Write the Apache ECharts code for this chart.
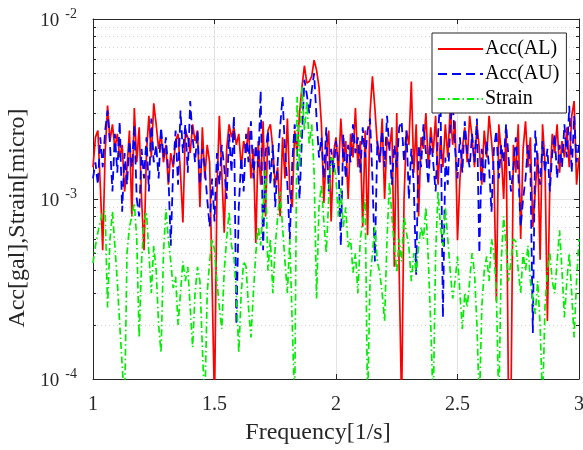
<!DOCTYPE html>
<html>
<head>
<meta charset="utf-8">
<script src="https://cdn.jsdelivr.net/npm/echarts@6/dist/echarts.min.js"></script>
<style>html,body{margin:0;padding:0;background:#fff}#c{width:583px;height:450px}</style>
</head>
<body>
<div id="c"></div>
<script>
// Frequency grid 1.00 ... 3.00, step 0.01
const freqStart = 1.0, freqStep = 0.01, freqCount = 201;
const freq = Array.from({length: freqCount}, (_, i) => +(freqStart + i * freqStep).toFixed(2));

const xTicks = [1, 1.5, 2, 2.5, 3];
const yDecades = [1e-4, 1e-3, 1e-2];
const yMinor = [2e-4,3e-4,4e-4,5e-4,6e-4,7e-4,8e-4,9e-4,2e-3,3e-3,4e-3,5e-3,6e-3,7e-3,8e-3,9e-3];

const seriesNames = ['Acc(AL)', 'Acc(AU)', 'Strain'];

// Acc(AL)
const accAL = [
0.0015,0.0022,0.0024,0.0012,0.00052,0.0018,0.0033,0.0021,0.0026,0.0019,
0.0023,0.0017,0.0020,0.0011,0.0015,0.0024,0.0008,0.0032,0.0016,0.0025,
0.0010,0.00052,0.0018,0.0029,0.0017,0.0034,0.0026,0.0019,0.0023,0.0016,
0.0020,0.0012,0.0018,0.0015,0.0021,0.0023,0.0014,0.00074,0.0024,0.0022,
0.0018,0.0026,0.0021,0.0024,0.0009,0.0025,0.0013,0.0020,0.0016,0.00035,
0.00007,0.0011,0.0029,0.0014,0.00065,0.0019,0.0026,0.0022,0.0025,0.0020,
0.0023,0.0015,0.0021,0.0018,0.0025,0.0013,0.0019,0.00057,0.0021,0.0012,
0.0027,0.0008,0.0024,0.0026,0.0019,0.0012,0.0015,0.0008,0.0022,0.0013,
0.0028,0.0011,0.0009,0.0024,0.0018,0.0030,0.0042,0.0055,0.0044,0.0045,
0.0048,0.0059,0.0052,0.0042,0.0026,0.00095,0.0018,0.0024,0.00075,0.0018,
0.0022,0.0014,0.0028,0.0016,0.0021,0.0010,0.0023,0.0017,0.0032,0.0015,
0.0021,0.0007,0.0024,0.00063,0.0030,0.0048,0.0032,0.0020,0.0016,0.0028,
0.0010,0.0022,0.0019,0.0025,0.00042,0.0030,0.0004,0.00007,0.0010,0.0024,
0.0020,0.0045,0.0014,0.0026,0.0008,0.0022,0.0019,0.0030,0.0015,0.0025,
0.0018,0.0029,0.0012,0.0022,0.0015,0.0026,0.0017,0.0032,0.0020,0.0027,
0.00059,0.0013,0.0019,0.0025,0.0016,0.0029,0.0022,0.0015,0.0026,0.0019,
0.0012,0.0024,0.0017,0.0029,0.0021,0.0014,0.00027,0.0026,0.0018,0.0010,
0.0025,0.00007,0.00007,0.0020,0.0014,0.0026,0.0006,0.0019,0.0027,0.0015,
0.0022,0.0007,0.0011,0.0018,0.00046,0.0026,0.0016,0.00021,0.0012,0.0023,
0.0018,0.0026,0.0014,0.0021,0.0017,0.0025,0.0015,0.0029,0.0035,0.0012,
0.0017
];

// Acc(AU)
const accAU = [
0.0013,0.0016,0.0012,0.0022,0.0015,0.0024,0.0031,0.0020,0.0011,0.0023,
0.0014,0.0027,0.00085,0.0018,0.0012,0.0021,0.0015,0.0026,0.0010,0.0008,
0.0019,0.0013,0.0022,0.0011,0.0028,0.0016,0.0020,0.0013,0.0025,0.0017,
0.0022,0.0014,0.00055,0.0015,0.0024,0.0012,0.0031,0.0018,0.0026,0.0014,
0.0035,0.0022,0.0016,0.0024,0.0012,0.0019,0.0015,0.0010,0.0007,0.0013,
0.00075,0.0018,0.0012,0.0020,0.0015,0.0010,0.0023,0.0014,0.0029,0.0002,
0.0009,0.0017,0.0011,0.0023,0.0016,0.0027,0.0013,0.0020,0.0015,0.0040,
0.00052,0.0018,0.0024,0.0012,0.0020,0.0009,0.0016,0.0025,0.0037,0.0019,
0.0012,0.0006,0.0016,0.0026,0.0018,0.0010,0.0022,0.0046,0.0038,0.0030,
0.0040,0.0050,0.0028,0.0017,0.0022,0.0013,0.0025,0.0011,0.0019,0.0014,
0.0021,0.0016,0.00055,0.0023,0.0013,0.0020,0.0016,0.0026,0.0018,0.0022,
0.0014,0.0025,0.0017,0.0024,0.0028,0.0013,0.00045,0.0021,0.0016,0.0024,
0.0015,0.0029,0.0019,0.0012,0.0020,0.0015,0.0025,0.0027,0.0016,0.0024,
0.0010,0.0019,0.0012,0.00038,0.0020,0.0015,0.0026,0.0018,0.0012,0.0022,
0.0016,0.0011,0.0023,0.0038,0.00022,0.0017,0.0012,0.0025,0.0036,0.0019,
0.0013,0.0022,0.0014,0.0027,0.0018,0.0015,0.0023,0.0016,0.0028,0.0005,
0.0019,0.0012,0.0021,0.0015,0.00085,0.0019,0.0024,0.0013,0.0020,0.0016,
0.0026,0.0017,0.0011,0.0015,0.0022,0.0014,0.0007,0.0010,0.0013,0.0020,
0.0015,0.00018,0.0024,0.0016,0.0012,0.0021,0.0014,0.0019,0.0011,0.0018,
0.0023,0.0013,0.0020,0.0015,0.0026,0.0017,0.0033,0.0014,0.0029,0.0016,
0.0020
];

// Strain
const strain = [
0.00044,0.00055,0.00065,0.00075,0.00085,0.00085,0.00025,0.0006,0.00085,0.00055,
0.00035,0.0002,0.00012,0.00007,0.0005,0.0007,0.0008,0.00095,0.0006,0.00017,
0.00045,0.00075,0.00085,0.0005,0.0003,0.00055,0.0004,0.0002,0.00014,0.0005,
0.00088,0.0006,0.00045,0.00032,0.00037,0.0002,0.0003,0.00045,0.00035,0.00042,
0.00025,0.00015,0.0003,0.00042,0.00035,0.00015,0.00007,0.0003,0.00045,0.0006,
0.00052,0.00035,0.00025,0.00019,0.0004,0.0006,0.00085,0.00055,0.00048,0.0003,
0.00014,0.0003,0.00045,0.00042,0.00025,0.00017,0.0003,0.0005,0.0007,0.00055,
0.0009,0.00145,0.0004,0.0006,0.0003,0.00055,0.0008,0.0011,0.0007,0.00045,
0.0003,0.0006,0.0002,0.00007,0.0037,0.0015,0.0042,0.0024,0.0035,0.0020,
0.0026,0.0014,0.00028,0.0009,0.0012,0.00075,0.0005,0.0010,0.0017,0.00165,
0.0013,0.0008,0.00115,0.0007,0.0009,0.00054,0.0006,0.00039,0.0005,0.0003,
0.0006,0.00075,0.0010,0.00007,0.00035,0.0005,0.0007,0.00045,0.00039,0.0003,
0.00021,0.0006,0.00125,0.0008,0.00055,0.00039,0.0006,0.00045,0.0008,0.00065,
0.00054,0.00035,0.0005,0.00039,0.00055,0.0007,0.0006,0.0009,0.00045,0.0002,
0.00007,0.0005,0.0011,0.0007,0.00055,0.0009,0.0006,0.0004,0.00028,0.00035,
0.00048,0.0003,0.00019,0.0003,0.00025,0.00035,0.0005,0.00039,0.0002,0.00007,
0.00025,0.0004,0.00048,0.00035,0.0006,0.0005,0.0003,0.00007,0.00045,0.0008,
0.00055,0.00035,0.00045,0.0006,0.00058,0.0004,0.0003,0.0005,0.0004,0.00055,
0.00035,0.00028,0.00023,0.00035,0.0002,0.00007,0.00025,0.0004,0.0005,0.00035,
0.0003,0.00045,0.00067,0.0004,0.00022,0.00035,0.0005,0.0003,0.00017,0.00035,
0.0006
];

const FONT = "'Liberation Serif','Times New Roman',serif";
const AX = '#262626';
const pairs = arr => freq.map((f, i) => [f, arr[i]]);

const chart = echarts.init(document.getElementById('c'), null, {renderer: 'canvas'});

const logBase = {type: 'log', logBase: 10, min: 1e-4, max: 1e-2, gridIndex: 0};

chart.setOption({
  animation: false,
  backgroundColor: '#fff',
  textStyle: {fontFamily: FONT},
  grid: {left: 93, right: 4, top: 19, bottom: 71, containLabel: false, outerBoundsMode: 'none'},
  legend: {
    data: seriesNames,
    orient: 'vertical',
    left: 432, top: 33,
    backgroundColor: '#fff',
    borderColor: '#262626', borderWidth: 1, borderRadius: 0,
    padding: [6, 7, 4, 5],
    itemWidth: 45, itemHeight: 20, itemGap: 5,
    itemStyle: {opacity: 0},
    textStyle: {fontFamily: FONT, fontSize: 20, color: '#000', padding: [0, 0, 0, -3]},
    z: 10
  },
  xAxis: [
    {
      type: 'value', min: 1, max: 3, interval: 0.5, position: 'bottom',
      axisLine: {show: true, onZero: false, lineStyle: {color: AX, width: 1}},
      axisTick: {show: true, inside: true, length: 5, lineStyle: {color: AX}},
      axisLabel: {fontFamily: FONT, fontSize: 20, color: AX, margin: 16,
        customValues: xTicks},
      splitLine: {show: true, lineStyle: {color: '#e3e3e3', width: 1}},
      name: 'Frequency[1/s]', nameLocation: 'middle', nameGap: 42,
      nameTextStyle: {fontFamily: FONT, fontSize: 24, color: AX, padding: [0, 36, 0, 0]}
    },
    {
      type: 'value', min: 1, max: 3, interval: 0.5, position: 'top',
      axisLine: {show: true, onZero: false, lineStyle: {color: AX, width: 1}},
      axisTick: {show: true, inside: true, length: 5, lineStyle: {color: AX}},
      axisLabel: {show: false}, splitLine: {show: false}
    }
  ],
  yAxis: [
    Object.assign({}, logBase, {
      position: 'left',
      axisLine: {show: true, onZero: false, lineStyle: {color: AX, width: 1}},
      axisTick: {show: true, inside: true, length: 5, lineStyle: {color: AX}},
      axisLabel: {
        margin: 16,
        formatter: v => '{b|10}{s|' + Math.round(Math.log10(v)) + '}',
        rich: {
          b: {fontFamily: FONT, fontSize: 19, color: AX, lineHeight: 24, verticalAlign: 'bottom'},
          s: {fontFamily: FONT, fontSize: 14, color: AX, lineHeight: 24, verticalAlign: 'top', padding: [0, 0, 0, 6]}
        }
      },
      splitLine: {show: true, lineStyle: {color: '#e3e3e3', width: 1}},
      name: 'Acc[gal],Strain[micro]', nameLocation: 'middle', nameGap: 56,
      nameTextStyle: {fontFamily: FONT, fontSize: 24, color: AX, padding: [0, 38, 0, 0]}
    }),
    Object.assign({}, logBase, {
      position: 'left',
      axisLine: {show: false},
      axisTick: {show: true, inside: true, length: 3, lineStyle: {color: AX}, customValues: yMinor},
      axisLabel: {show: false},
      splitLine: {show: true, lineStyle: {color: '#d5d5d5', width: 1, type: [1, 3]}}
    }),
    Object.assign({}, logBase, {
      position: 'right',
      axisLine: {show: true, onZero: false, lineStyle: {color: AX, width: 1}},
      axisTick: {show: true, inside: true, length: 5, lineStyle: {color: AX}},
      axisLabel: {show: false}, splitLine: {show: false}
    }),
    Object.assign({}, logBase, {
      position: 'right',
      axisLine: {show: false},
      axisTick: {show: true, inside: true, length: 3, lineStyle: {color: AX}, customValues: yMinor},
      axisLabel: {show: false}, splitLine: {show: false}
    })
  ],
  series: [
    {name: seriesNames[0], type: 'line', data: pairs(accAL), symbol: 'none', clip: true,
     xAxisIndex: 0, yAxisIndex: 0,
     lineStyle: {color: '#ff0000', width: 1.7, type: 'solid'}, itemStyle: {color: '#ff0000'}},
    {name: seriesNames[1], type: 'line', data: pairs(accAU), symbol: 'none', clip: true,
     xAxisIndex: 0, yAxisIndex: 0,
     lineStyle: {color: '#0000ff', width: 1.8, type: [9, 5]}, itemStyle: {color: '#0000ff'}},
    {name: seriesNames[2], type: 'line', data: pairs(strain), symbol: 'none', clip: true,
     xAxisIndex: 0, yAxisIndex: 0,
     lineStyle: {color: '#00ee00', width: 1.7, type: [7, 3, 1.5, 3]}, itemStyle: {color: '#00ee00'}}
  ]
});
</script>
</body>
</html>
